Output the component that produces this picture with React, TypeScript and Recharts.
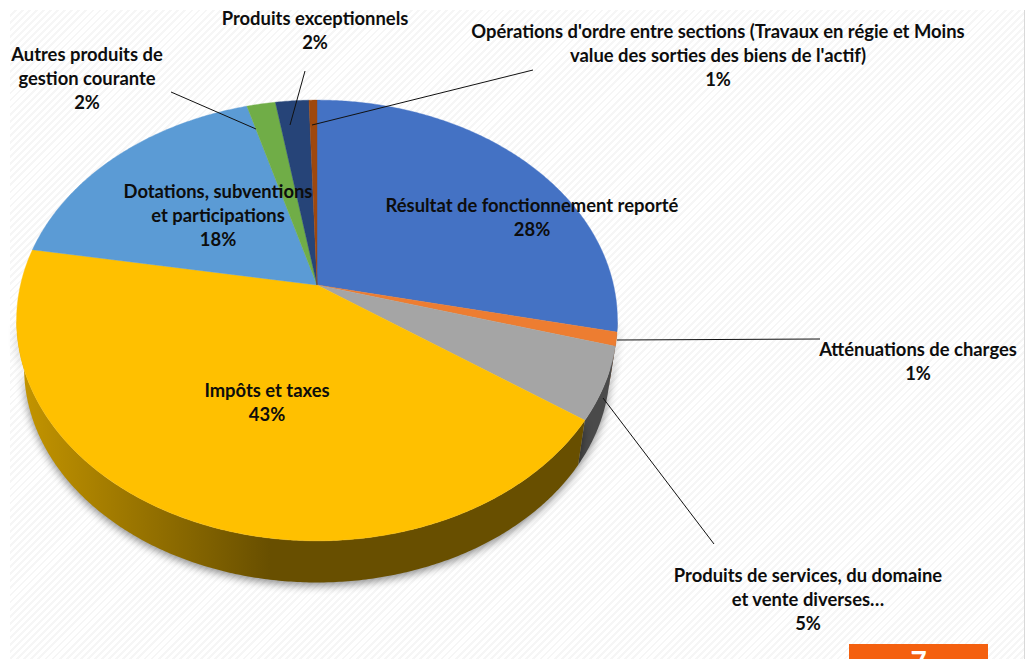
import { PieChart, Pie } from "recharts";

const CATEGORIES = [
  "Résultat de fonctionnement reporté",
  "Atténuations de charges",
  "Produits de services, du domaine et vente diverses…",
  "Impôts et taxes",
  "Dotations, subventions et participations",
  "Autres produits de gestion courante",
  "Produits exceptionnels",
  "Opérations d'ordre entre sections (Travaux en régie et Moins value des sorties des biens de l'actif)",
];
const VALUES = [28.4, 1.0, 5.3, 43.0, 17.9, 1.8, 2.1, 0.5];
const COLORS = ["#4472c4", "#ed7d31", "#a5a5a5", "#ffc000", "#5b9bd5", "#70ad47", "#264478", "#9e480e"];
const WALL_COLORS = ["#223963", "#77401a", "#4a4a4a", "url(#yellowWall)", "#2e4e6b", "#385724", "#13223c", "#4f2407"];

// how each label is broken up and where it sits (center x, first baseline y)
const LABEL_LINES = [
  ["Résultat de fonctionnement reporté"],
  ["Atténuations de charges"],
  ["Produits de services, du domaine", "et vente diverses…"],
  ["Impôts et taxes"],
  ["Dotations, subventions", "et participations"],
  ["Autres produits de", "gestion courante"],
  ["Produits exceptionnels"],
  ["Opérations d'ordre entre sections (Travaux en régie et Moins", "value des sorties des biens de l'actif)"],
];
const LABEL_POS = [
  [532, 212],
  [918, 356],
  [808, 582],
  [267, 397],
  [218, 198],
  [87, 61],
  [315, 25],
  [718, 38],
];
const LEADERS: (number[] | null)[] = [
  null,
  [617, 340, 820, 339],
  [603, 398, 714, 544],
  null,
  null,
  [171, 92, 256, 129],
  [305, 71, 290, 125],
  [533, 70, 312, 125],
];

const data = CATEGORIES.map((name, i) => ({ name, value: VALUES[i] }));

const WIDTH = 1033;
const HEIGHT = 659;
const CX = 317;
const CY = 285;
const RADIUS = 296.5;
// fake 3D: the flat circle is tilted and put in perspective
const TILT = 0.724;
const PERSP = 0.161;
const DEPTH = 48;
const WALL_SCALE = 0.975;
const WALL_FROM = 99.3;
const WALL_TO = 260.7;

function project(cx: number, cy: number, r: number, clockDeg: number) {
  const t = (clockDeg * Math.PI) / 180;
  const x = Math.sin(t);
  const y = -Math.cos(t);
  const d = 1 - PERSP * y;
  return [cx + (r * x) / d, cy + (r * TILT * y) / d];
}

function arcPoints(cx: number, cy: number, r: number, from: number, to: number) {
  const pts: number[][] = [];
  const n = Math.max(2, Math.ceil((to - from) * 2));
  for (let i = 0; i <= n; i++) pts.push(project(cx, cy, r, from + ((to - from) * i) / n));
  return pts;
}

function TopSlice(props: any) {
  const { cx, cy, outerRadius, startAngle, endAngle, index } = props;
  const pts = arcPoints(cx, cy, outerRadius, 90 - startAngle, 90 - endAngle);
  const d = `M${cx},${cy} ` + pts.map((p) => `L${p[0]},${p[1]}`).join(" ") + " Z";
  return <path d={d} fill={COLORS[index]} stroke={COLORS[index]} strokeWidth={0.4} />;
}

function WallSlice(props: any) {
  const { cx, cy, outerRadius, startAngle, endAngle, index } = props;
  const from = Math.max(90 - startAngle, WALL_FROM);
  const to = Math.min(90 - endAngle, WALL_TO);
  if (to <= from) return <g />;
  const top = arcPoints(cx, cy, outerRadius, from, to);
  const bottom = arcPoints(cx, cy, outerRadius, from, to)
    .map((p) => [cx + (p[0] - cx) * WALL_SCALE, cy + (p[1] - cy) * WALL_SCALE + DEPTH])
    .reverse();
  const d = "M" + [...top, ...bottom].map((p) => `${p[0]},${p[1]}`).join(" L") + " Z";
  return (
    <path
      d={d}
      fill={WALL_COLORS[index]}
      style={{ filter: "drop-shadow(0px 3px 4px rgba(0,0,0,0.45))" }}
    />
  );
}

function SliceLabel(props: any) {
  const { index, percent } = props;
  const lines = LABEL_LINES[index];
  const [x, y] = LABEL_POS[index];
  const leader = LEADERS[index];
  return (
    <g>
      {leader && (
        <line x1={leader[0]} y1={leader[1]} x2={leader[2]} y2={leader[3]} stroke="#111" strokeWidth={1} />
      )}
      <text x={x} y={y} textAnchor="middle" fontFamily="Lato" fontWeight={700} fontSize={18.4} fill="#0d0d0d">
        {[...lines, `${Math.round(percent * 100)}%`].map((t, i) => (
          <tspan key={i} x={x} y={y + i * 24}>
            {t}
          </tspan>
        ))}
      </text>
    </g>
  );
}

export default function App() {
  return (
    <div style={{ position: "absolute", left: 0, top: 0, width: WIDTH, height: HEIGHT, background: "#fff", overflow: "hidden" }}>
      <div
        style={{
          position: "absolute",
          left: 10,
          top: 10,
          width: 1014,
          height: 649,
          background: "repeating-linear-gradient(135deg, #fff 0px, #fff 3px, #f6f6f6 3px, #f6f6f6 5px)",
          borderRight: "1px solid #d9d9d9",
        }}
      />
      <div
        style={{
          position: "absolute",
          left: 849,
          top: 644,
          width: 139,
          height: 15,
          background: "#f4600f",
          color: "#fff",
          fontFamily: "Lato",
          fontWeight: 700,
          fontSize: 28,
          lineHeight: "34px",
          textAlign: "center",
          overflow: "hidden",
        }}
      >
        7
      </div>
      <div style={{ position: "absolute", left: 0, top: 0 }}>
        <PieChart width={WIDTH} height={HEIGHT} margin={{ top: 0, right: 0, bottom: 0, left: 0 }}>
          <defs>
            <linearGradient id="yellowWall" gradientUnits="userSpaceOnUse" x1={20} y1={0} x2={270} y2={0}>
              <stop offset="0%" stopColor="#c49500" />
              <stop offset="100%" stopColor="#684f00" />
            </linearGradient>
          </defs>
          <Pie
            data={data}
            dataKey="value"
            nameKey="name"
            cx={CX}
            cy={CY}
            outerRadius={RADIUS}
            startAngle={90}
            endAngle={-270}
            stroke="none"
            shape={WallSlice}
            isAnimationActive={false}
          />
          <Pie
            data={data}
            dataKey="value"
            nameKey="name"
            cx={CX}
            cy={CY}
            outerRadius={RADIUS}
            startAngle={90}
            endAngle={-270}
            stroke="none"
            shape={TopSlice}
            label={SliceLabel}
            labelLine={false}
            isAnimationActive={false}
          />
        </PieChart>
      </div>
    </div>
  );
}
